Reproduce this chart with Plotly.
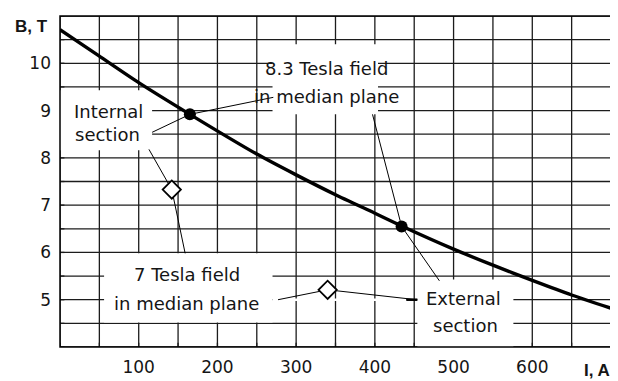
import plotly.graph_objects as go

# ---- data ----
current_A = [0, 50, 100, 165, 250, 300, 350, 400, 434, 500, 550, 600, 650, 700]
field_T = [10.71, 10.15, 9.59, 8.92, 8.08, 7.64, 7.22, 6.83, 6.56, 6.07, 5.73, 5.41, 5.10, 4.82]

field83_I = [165, 434]
field83_B = [8.92, 6.55]

field7_I = [142, 340]
field7_B = [7.33, 5.21]

x_tick_vals = [0, 50, 100, 150, 200, 250, 300, 350, 400, 450, 500, 550, 600, 650, 700]
x_tick_text = ["", "", "100", "", "200", "", "300", "", "400", "", "500", "", "600", "", ""]
y_tick_vals = [4, 4.5, 5, 5.5, 6, 6.5, 7, 7.5, 8, 8.5, 9, 9.5, 10, 10.5, 11]
y_tick_text = ["", "", "5", "", "6", "", "7", "", "8", "", "9", "", "10", "", ""]

FONT = "DejaVu Sans, sans-serif"
BOLD = "Arial, Liberation Sans, sans-serif"
INK = "#151515"
GRID = "#1c1c1c"

fig = go.Figure()

fig.add_trace(go.Scatter(
    x=current_A, y=field_T, mode="lines",
    line=dict(color="black", width=3.4, shape="spline", smoothing=0.6),
    hoverinfo="skip", showlegend=False))

fig.add_trace(go.Scatter(
    x=field83_I, y=field83_B, mode="markers",
    marker=dict(symbol="circle", size=12, color="black"),
    showlegend=False))

fig.add_trace(go.Scatter(
    x=field7_I, y=field7_B, mode="markers",
    marker=dict(symbol="diamond", size=14, color="white",
                line=dict(color="black", width=1.8)),
    showlegend=False))

shapes = []
# grid
for v in x_tick_vals:
    shapes.append(dict(type="line", xref="x", yref="y domain", x0=v, x1=v, y0=0, y1=1,
                       line=dict(color=GRID, width=1.3), layer="below"))
for v in y_tick_vals:
    shapes.append(dict(type="line", xref="x domain", yref="y", x0=0, x1=1, y0=v, y1=v,
                       line=dict(color=GRID, width=1.3), layer="below"))

# white label boxes covering the grid
boxes = [
    (270, 404, 8.92, 10.40),   # 8.3 Tesla field
    (0, 117, 8.16, 9.43),      # Internal section
    (56, 270, 4.52, 5.98),     # 7 Tesla field
    (454, 576, 4.0, 5.43),     # External section
    (270, 440, 4.975, 5.025),  # erased grid segment
]
for x0, x1, y0, y1 in boxes:
    shapes.append(dict(type="rect", xref="x", yref="y", x0=x0, x1=x1, y0=y0, y1=y1,
                       fillcolor="white", line=dict(width=0), layer="below"))

# small inward ticks on the bottom and left axes
for v in x_tick_vals:
    shapes.append(dict(type="line", xref="x", yref="y domain", x0=v, x1=v, y0=0, y1=0.013,
                       line=dict(color=GRID, width=1.3), layer="below"))
for v in y_tick_vals:
    shapes.append(dict(type="line", xref="x domain", yref="y", x0=0, x1=0.008, y0=v, y1=v,
                       line=dict(color=GRID, width=1.3), layer="below"))

# leader lines
leaders = [
    (117, 8.54, field83_I[0], field83_B[0]),
    (271, 9.28, field83_I[0], field83_B[0]),
    (397, 8.92, field83_I[1], field83_B[1]),
    (482, 5.40, field83_I[1], field83_B[1]),
    (113, 8.18, field7_I[0], field7_B[0]),
    (159, 5.98, field7_I[0], field7_B[0]),
    (277, 5.0, field7_I[1], field7_B[1]),
    (453, 5.0, field7_I[1], field7_B[1]),
]
for x0, y0, x1, y1 in leaders:
    shapes.append(dict(type="line", xref="x", yref="y", x0=x0, y0=y0, x1=x1, y1=y1,
                       line=dict(color="black", width=1), layer="below"))
shapes.append(dict(type="line", xref="x", yref="y", x0=440, y0=5.0, x1=454, y1=5.0,
                   line=dict(color="black", width=2.5), layer="below"))

# frame
shapes.append(dict(type="rect", xref="x domain", yref="y domain", x0=0, x1=1, y0=0, y1=1,
                   line=dict(color="black", width=1.5), fillcolor="rgba(0,0,0,0)",
                   layer="above"))

annotations = []
labels = [
    ("8.3 Tesla field", 338, 9.89),
    ("in median plane", 338, 9.29),
    ("Internal", 61, 8.98),
    ("section", 60, 8.49),
    ("7 Tesla field", 161, 5.53),
    ("in median plane", 161, 4.92),
    ("External", 513, 5.02),
    ("section", 515, 4.46),
]
for text, x, y in labels:
    annotations.append(dict(text=text, x=x, y=y, xref="x", yref="y", showarrow=False,
                            xanchor="center", yanchor="middle",
                            font=dict(family=FONT, size=18, color=INK)))

annotations.append(dict(text="<b>B, T</b>", x=-0.051, y=0.969, xref="paper", yref="paper",
                        showarrow=False, xanchor="center", yanchor="middle",
                        font=dict(family=BOLD, size=17, color=INK)))
annotations.append(dict(text="<b>I, A</b>", x=0.975, y=-0.072, xref="paper", yref="paper",
                        showarrow=False, xanchor="center", yanchor="middle",
                        font=dict(family=BOLD, size=17, color=INK)))

axis_common = dict(
    showgrid=False, showline=False, zeroline=False, ticks="",
    tickfont=dict(family=FONT, size=17, color=INK),
    fixedrange=True, automargin=False,
)

# the page body keeps its default 8px margin, so the figure is 8px smaller
fig.update_layout(
    template="none",
    width=610, height=373,
    margin=dict(l=52, r=7, t=8, b=34, pad=0),
    paper_bgcolor="white", plot_bgcolor="white",
    xaxis=dict(range=[0, 700], tickmode="array", tickvals=x_tick_vals,
               ticktext=x_tick_text, ticklabelstandoff=8, **axis_common),
    yaxis=dict(range=[4, 11], tickmode="array", tickvals=y_tick_vals,
               ticktext=y_tick_text, ticklabelstandoff=8, **axis_common),
    shapes=shapes, annotations=annotations, showlegend=False,
)

fig.write_html("out.html")
